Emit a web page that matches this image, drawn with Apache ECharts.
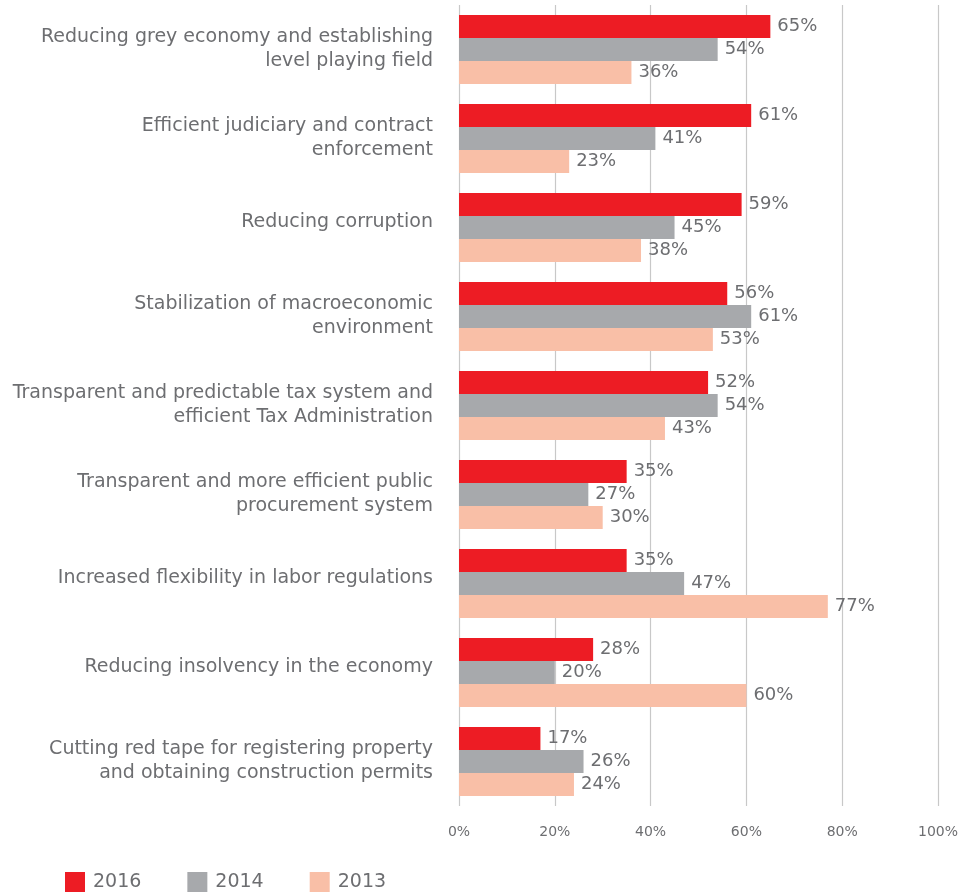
<!DOCTYPE html>
<html>
<head>
<meta charset="utf-8">
<script src="https://cdn.jsdelivr.net/npm/echarts@6/dist/echarts.min.js"></script>
<style>
    html, body { margin: 0; padding: 0; background: #fff; }
    #chart { width: 968px; height: 892px; }
</style>
</head>
<body>
<div id="chart"></div>
<script>
    // categories top to bottom
    let categories = [
        'Reducing grey economy and establishing\nlevel playing field',
        'Efficient judiciary and contract\nenforcement',
        'Reducing corruption',
        'Stabilization of macroeconomic\nenvironment',
        'Transparent and predictable tax system and\nefficient Tax Administration',
        'Transparent and more efficient public\nprocurement system',
        'Increased flexibility in labor regulations',
        'Reducing insolvency in the economy',
        'Cutting red tape for registering property\nand obtaining construction permits'
    ];
    let data2016 = [65, 61, 59, 56, 52, 35, 35, 28, 17];
    let data2014 = [54, 41, 45, 61, 54, 27, 47, 20, 26];
    let data2013 = [36, 23, 38, 53, 43, 30, 77, 60, 24];

    let textColor = '#6d6e71';
    let fontFamily = 'DejaVu Sans';

    let myChart = echarts.init(document.getElementById('chart'));

    function makeSeries(name, data, color) {
        return {
            name: name,
            type: 'bar',
            data: data,
            barGap: 0,
            barCategoryGap: '22.5%',
            itemStyle: { color: color },
            label: {
                show: true,
                position: 'right',
                distance: 7,
                formatter: '{c}%',
                color: textColor,
                fontSize: 18,
                fontFamily: fontFamily
            }
        };
    }

    let option = {
        animation: false,
        textStyle: { fontFamily: fontFamily },
        grid: { left: 459, right: 30, top: 5, height: 801 },
        legend: {
            left: 65,
            top: 872,
            padding: 0,
            itemWidth: 20,
            itemHeight: 20,
            itemGap: 46,
            icon: 'rect',
            textStyle: { color: textColor, fontSize: 19, fontFamily: fontFamily, padding: [0, 0, 0, 3] },
            data: ['2016', '2014', '2013']
        },
        xAxis: {
            type: 'value',
            min: 0,
            max: 100,
            interval: 20,
            axisLine: { show: false },
            axisTick: { show: false },
            splitLine: { lineStyle: { color: '#c8c8c8', width: 1.2 } },
            axisLabel: { formatter: '{value}%', color: textColor, fontSize: 14, margin: 19, fontFamily: fontFamily }
        },
        yAxis: {
            type: 'category',
            inverse: true,
            data: categories,
            axisLine: { show: false },
            axisTick: { show: false },
            axisLabel: {
                color: textColor,
                fontSize: 19,
                lineHeight: 24,
                margin: 26,
                fontFamily: fontFamily,
                // single-line labels sit a little above the group centre
                formatter: function (value) {
                    return value.indexOf('\n') < 0 ? '{s|' + value + '}' : value;
                },
                rich: {
                    s: { color: textColor, fontSize: 19, fontFamily: fontFamily, padding: [0, 0, 10, 0] }
                }
            }
        },
        series: [
            makeSeries('2016', data2016, '#ed1c24'),
            makeSeries('2014', data2014, '#a7a9ac'),
            makeSeries('2013', data2013, '#f9bfa7')
        ]
    };
    myChart.setOption(option);
</script>
</body>
</html>
